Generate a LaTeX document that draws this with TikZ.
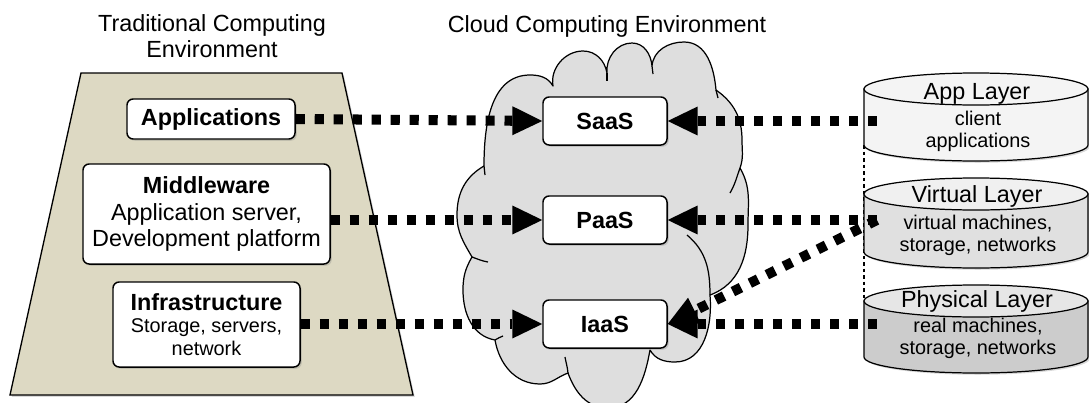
\documentclass[tikz,border=0pt]{standalone}
\usepackage{fontspec}
\setmainfont{Liberation Sans}
\usetikzlibrary{arrows.meta,shadows}

\definecolor{tan}{HTML}{DDD9C3}
\definecolor{cloudgray}{HTML}{DEDEDE}
\definecolor{appgray}{HTML}{F4F4F4}
\definecolor{virtgray}{HTML}{E0E0E0}
\definecolor{virttop}{HTML}{F0F0F0}
\definecolor{physgray}{HTML}{CCCCCC}
\definecolor{phystop}{HTML}{E6E6E6}

\tikzset{
  softshadow/.style={drop shadow={opacity=0.3,shadow xshift=1pt,shadow yshift=-1pt}},
  layerbox/.style={draw=black, line width=0.85pt, fill=white, rounded corners=3.5pt,
    align=center, inner sep=0pt, softshadow},
  svcbox/.style={layerbox, minimum width=2.48cm, minimum height=0.96cm,
    font=\fontsize{13.3}{16}\selectfont\bfseries},
  bigtxt/.style={font=\fontsize{13.3}{15}\selectfont, align=center},
  smalltxt/.style={font=\fontsize{11.3}{12.8}\selectfont, align=center},
  cloudline/.style={line width=0.7pt, line join=round},
  cylline/.style={line width=0.7pt},
  link/.style={line width=5.7pt, dash pattern=on 5.2pt off 5.6pt,
    -{Triangle[length=17pt,width=16.5pt,line width=0pt]}},
}

\begin{document}
\begin{tikzpicture}[scale=0.2]
\useasboundingbox (0,0) rectangle (108.9,-40.3);

% traditional stack
\draw [black, line width=0.75pt, fill=tan, softshadow] (8.1,-7.3) -- (34.2,-7.3) -- (41.3,-39.5) -- (1.0,-39.5) -- cycle;
\node [bigtxt] (tradtitle) at (21.2,-3.6) {Traditional Computing\\Environment};
\node [layerbox, minimum width=3.36cm, minimum height=0.8cm, font=\fontsize{13.3}{16}\selectfont\bfseries] (apps) at (21.1,-11.9) {Applications};
\node [layerbox, minimum width=4.94cm, minimum height=2.0cm, bigtxt] (mid) at (20.65,-21.4) {\textbf{Middleware}\\Application server,\\Development platform};
\node [layerbox, minimum width=3.74cm, minimum height=1.7cm, smalltxt] (infra) at (20.65,-32.45) {{\fontsize{13.3}{15}\selectfont\bfseries Infrastructure}\\Storage, servers,\\network};

% cloud
\node [bigtxt] (cloudtitle) at (60.7,-2.65) {Cloud Computing Environment};
\draw [cloudline, fill=cloudgray] (47.2,-25.7) to[out=120,in=270] (45.7,-21.5) to[out=90,in=210] (48.4,-16.6)
  to[out=90,in=180] (53.0,-7.5) to[out=0,in=120] (55.3,-8.6)
  to[out=100,in=180] (58.3,-5.1) to[out=0,in=100] (60.7,-7.3)
  to[out=95,in=180] (63.2,-4.3) to[out=0,in=95] (65.2,-6.6)
  to[out=85,in=180] (68.4,-4.2) to[out=0,in=95] (71.6,-9.0)
  to[out=-35,in=90] (74.2,-14.0) to[out=-90,in=70] (74.0,-16.8)
  to[out=-60,in=90] (74.8,-22.5) to[out=-90,in=20] (71.0,-29.5)
  to[out=-85,in=0] (67.5,-36.2) to[out=180,in=-60] (65.0,-35.0)
  to[out=-100,in=0] (60.8,-40.8) to[out=180,in=-70] (56.8,-37.3)
  to[out=200,in=0] (54.0,-38.4) to[out=180,in=-80] (49.5,-34.0)
  to[out=170,in=-90] (46.3,-29.0) to[out=90,in=240] cycle;
\draw [cloudline] (48.4,-16.6) -- (48.5,-17.5);
\draw [cloudline] (60.7,-7.3) -- (60.7,-8.1);
\draw [cloudline] (65.2,-6.6) -- (65.3,-7.4);
\draw [cloudline] (71.6,-9.0) -- (71.8,-9.8);
\draw [cloudline] (74.0,-16.8) to[out=-110,in=60] (73.0,-19.3);
\draw [cloudline] (68.7,-23.5) to[out=-40,in=90] (71.0,-29.5);
\draw [cloudline] (56.5,-35.7) to[out=-80,in=95] (56.8,-37.3);
\draw [cloudline] (49.5,-34.0) to[out=10,in=180] (50.3,-33.6);
\draw [cloudline] (47.2,-25.7) to[out=-20,in=170] (48.8,-26.2);
\node [svcbox] (saas) at (60.5,-12.1) {SaaS};
\node [svcbox] (paas) at (60.5,-22.0) {PaaS};
\node [svcbox] (iaas) at (60.5,-32.4) {IaaS};

% layers
\draw [cylline, dash pattern=on 2pt off 1.7pt] (86.4,-14.5) -- (86.4,-30.1);
\draw [cylline, fill=appgray, softshadow] (86.4,-8.9) -- (86.4,-14.5) arc (180:360:11.2 and 1.6) -- (108.8,-8.9) -- cycle;
\draw [cylline, fill=appgray] (97.6,-8.9) ellipse (11.2 and 1.6);
\draw [cylline, fill=virtgray, softshadow] (86.4,-19.4) -- (86.4,-25.2) arc (180:360:11.2 and 1.6) -- (108.8,-19.4) -- cycle;
\draw [cylline, fill=virttop] (97.6,-19.4) ellipse (11.2 and 1.6);
\draw [cylline, fill=physgray, softshadow] (86.4,-30.1) -- (86.4,-35.7) arc (180:360:11.2 and 1.6) -- (108.8,-30.1) -- cycle;
\draw [cylline, fill=phystop] (97.6,-30.1) ellipse (11.2 and 1.6);
\node [bigtxt] (applayer) at (97.7,-9.4) {App Layer};
\node [smalltxt] (appnote) at (97.8,-13.15) {client\\applications};
\node [bigtxt] (virtlayer) at (97.7,-19.65) {Virtual Layer};
\node [smalltxt] (virtnote) at (97.8,-23.55) {virtual machines,\\storage, networks};
\node [bigtxt] (physlayer) at (97.7,-30.15) {Physical Layer};
\node [smalltxt] (physnote) at (97.8,-33.85) {real machines,\\storage, networks};
\coordinate (append) at (87.7,-12.1);
\coordinate (virtend) at (87.7,-22.0);
\coordinate (physend) at (87.7,-32.4);

% mappings
\draw [link] (apps.east) -- (saas.west);
\draw [link] (mid.east |- paas.west) -- (paas.west);
\draw [link] (infra.east |- iaas.west) -- (iaas.west);
\draw [link] (append) -- (saas.east);
\draw [link] (virtend) -- (paas.east);
\draw [link] (physend) -- (iaas.east);
\draw [link] (virtend) -- (iaas.east);
\end{tikzpicture}
\end{document}
